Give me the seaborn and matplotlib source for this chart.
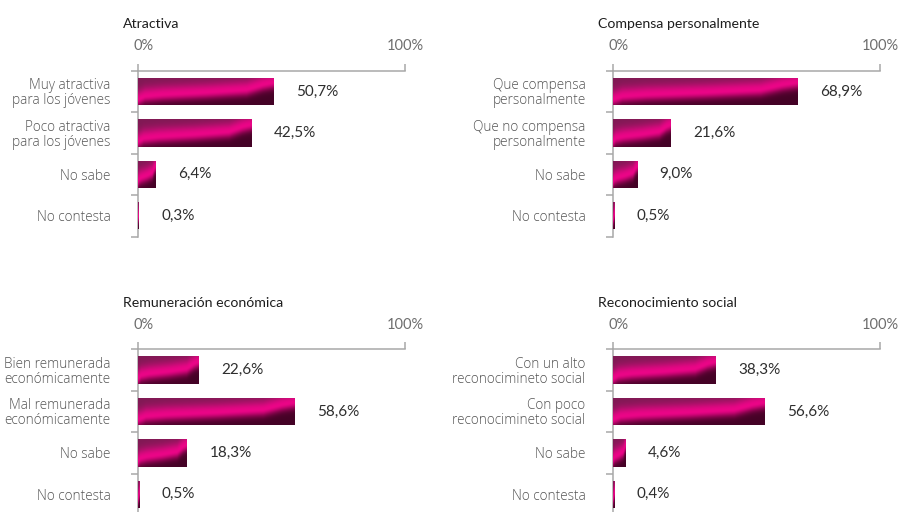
import numpy as np
import pandas as pd
import matplotlib
matplotlib.use("Agg")
import matplotlib.pyplot as plt
import matplotlib.transforms as mtransforms
import seaborn as sns

# Survey answers per topic (percent of respondents)
attractive_title = "Atractiva"
attractive_labels = ["Muy atractiva\npara los jóvenes", "Poco atractiva\npara los jóvenes",
                     "No sabe", "No contesta"]
attractive_values = [50.7, 42.5, 6.4, 0.3]

reward_title = "Compensa personalmente"
reward_labels = ["Que compensa\npersonalmente", "Que no compensa\npersonalmente",
                 "No sabe", "No contesta"]
reward_values = [68.9, 21.6, 9.0, 0.5]

pay_title = "Remuneración económica"
pay_labels = ["Bien remunerada\neconómicamente", "Mal remunerada\neconómicamente",
              "No sabe", "No contesta"]
pay_values = [22.6, 58.6, 18.3, 0.5]

status_title = "Reconocimiento social"
status_labels = ["Con un alto\nreconocimineto social", "Con poco\nreconocimineto social",
                 "No sabe", "No contesta"]
status_values = [38.3, 56.6, 4.6, 0.4]

axis_ticks = [0, 100]
axis_ticklabels = ["0%", "100%"]

sns.set_theme(style="white")
plt.rcParams["font.family"] = ["Lato", "DejaVu Sans"]

SPINE = "#a8a8a8"
CAT_COLOR = "#555555"
VAL_COLOR = "#2e2e2e"
TITLE_COLOR = "#1e1e1e"
LABEL_FONT = ["Open Sans", "DejaVu Sans"]


def tube_image(nx=300, ny=80):
    """Glossy magenta shading used to fill each bar."""
    u = np.linspace(0, 1, nx)[None, :]
    v = np.linspace(0, 1, ny)[:, None]
    center = np.interp(u, [0.0, 0.05, 0.18, 0.5, 0.8, 0.92, 1.0],
                       [0.80, 0.68, 0.62, 0.54, 0.44, 0.26, 0.18])
    d = v - center
    magenta = np.array([0.92, 0.02, 0.53])
    top = np.array([0.50, 0.10, 0.33])
    bottom = np.array([0.27, 0.01, 0.15])
    up = np.exp(-(d / 0.32) ** 2)[..., None]
    down = np.exp(-(d / 0.24) ** 2)[..., None]
    img = np.where((d < 0)[..., None],
                   top + (magenta - top) * up,
                   bottom + (magenta - bottom) * down)
    return np.clip(img, 0, 1)


TUBE = tube_image()

fig = plt.figure(figsize=(9.03, 5.12), dpi=100)

panels = [
    (attractive_title, attractive_labels, attractive_values, [0.1525, 0.538, 0.296, 0.3238]),
    (reward_title, reward_labels, reward_values, [0.6785, 0.538, 0.296, 0.3238]),
    (pay_title, pay_labels, pay_values, [0.1525, -0.006, 0.296, 0.3238]),
    (status_title, status_labels, status_values, [0.6785, -0.006, 0.296, 0.3238]),
]

for title, labels, values, rect in panels:
    ax = fig.add_axes(rect)
    df = pd.DataFrame({"respuesta": labels, "porcentaje": values})
    sns.barplot(data=df, x="porcentaje", y="respuesta", orient="h", ax=ax,
                color="#e6007e", width=0.66, linewidth=0, saturation=1)

    for patch in list(ax.patches):
        x0, y0 = patch.get_x(), patch.get_y()
        w, h = patch.get_width(), patch.get_height()
        im = ax.imshow(TUBE, extent=(x0, x0 + w, y0 + h, y0), origin="upper",
                       aspect="auto", interpolation="bilinear", zorder=3)
        im.set_clip_path(patch)

    for i, val in enumerate(values):
        ax.annotate(f"{val:.1f}".replace(".", ",") + "%", xy=(val, i),
                    xytext=(16.5, 0), textcoords="offset points",
                    ha="left", va="center", fontsize=11, color=VAL_COLOR)

    ax.set_xlim(0, 100)
    ax.set_ylim(len(labels) - 0.5, -0.5)
    ax.set_xlabel("")
    ax.set_ylabel("")

    for side in ("bottom", "right"):
        ax.spines[side].set_visible(False)
    for side in ("top", "left"):
        ax.spines[side].set_color(SPINE)
        ax.spines[side].set_linewidth(1.1)

    ax.xaxis.tick_top()
    ax.set_xticks(axis_ticks)
    ax.set_xticklabels(axis_ticklabels)
    ax.tick_params(axis="x", which="major", top=True, bottom=False, length=5,
                   width=1.1, color=SPINE, pad=7.5, labelsize=10.5,
                   labelcolor="#6e6e6e")
    # nudge the "0%" label a little to the right of its tick
    zero_label = ax.get_xticklabels()[0]
    zero_label.set_transform(zero_label.get_transform() +
                             mtransforms.ScaledTranslation(4 / 72, 0, fig.dpi_scale_trans))

    ax.set_yticks(range(len(labels)))
    ax.set_yticklabels(labels)
    ax.set_yticks(np.arange(-0.5, len(labels)), minor=True)
    ax.tick_params(axis="y", which="major", left=True, length=0, pad=19.5,
                   labelsize=9.8, labelcolor=CAT_COLOR)
    ax.tick_params(axis="y", which="minor", left=True, length=5, width=1.1,
                   color=SPINE)
    for lab in ax.get_yticklabels():
        lab.set_family(LABEL_FONT)
        lab.set_fontweight("light")
        lab.set_linespacing(1.0)

    ax.annotate(title, xy=(0, 1), xycoords="axes fraction",
                xytext=(-10.8, 33.6), textcoords="offset points",
                ha="left", va="center", fontsize=10.2, color=TITLE_COLOR)
    ax.grid(False)
    ax.set_facecolor("none")

fig.savefig("out.png", dpi=100, facecolor="white")
